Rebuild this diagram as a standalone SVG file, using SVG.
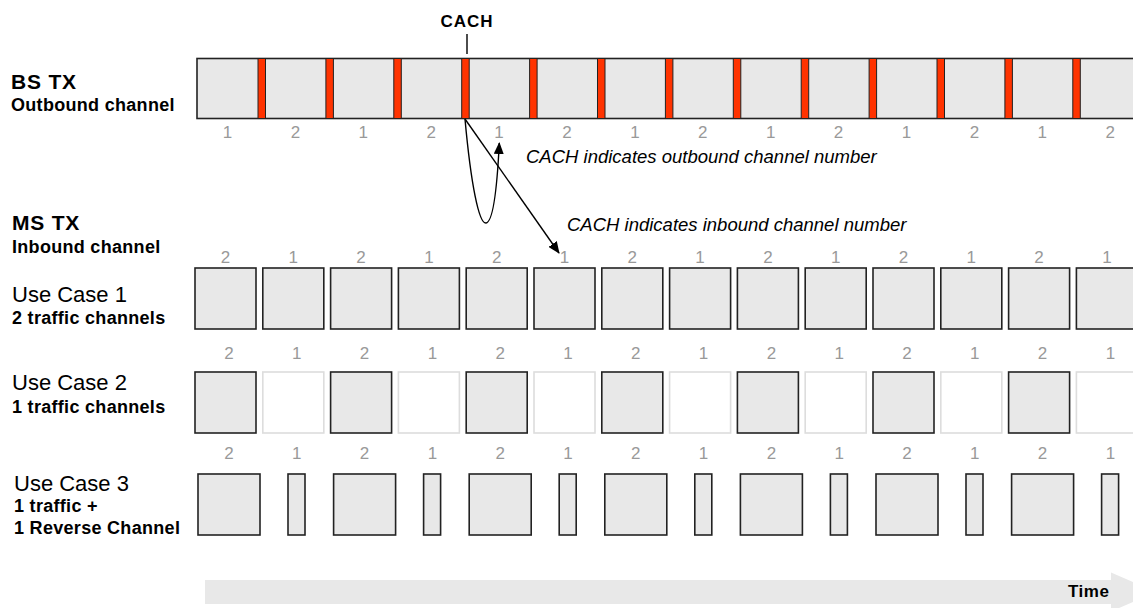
<svg xmlns="http://www.w3.org/2000/svg" width="1133" height="608" viewBox="0 0 1133 608">
<defs>
<style>
.lbl{font-family:"Liberation Sans",Arial,sans-serif;font-weight:bold;fill:#000}
.big{font-size:21px;letter-spacing:0.8px}
.sub{font-size:18px;letter-spacing:0.3px}
.uc{font-family:"Liberation Sans",Arial,sans-serif;font-size:22px;fill:#000}
.num{font-family:"Liberation Sans",Arial,sans-serif;font-size:17px;fill:#999;text-anchor:middle}
.it{font-family:"Liberation Sans",Arial,sans-serif;font-style:italic;font-size:18.5px;fill:#000}
.box{fill:#e8e8e8;stroke:#222;stroke-width:1.6}
.empty{fill:#fff;stroke:#ddd;stroke-width:1.6}
.red{fill:#ff3300;stroke:#222;stroke-width:1}
.conn{fill:none;stroke:#000;stroke-width:1.4}
</style>
<marker id="ah" markerWidth="12" markerHeight="10" refX="11" refY="5" orient="auto" markerUnits="userSpaceOnUse">
<path d="M0,0 L12,5 L0,10 Z" fill="#000"/>
</marker>
</defs>
<rect width="1133" height="608" fill="#fff"/>

<g id="labels">
<text class="lbl big" x="11" y="89">BS TX</text>
<text class="lbl sub" x="11" y="111">Outbound channel</text>
<text class="lbl big" x="12" y="230">MS TX</text>
<text class="lbl sub" x="12" y="253">Inbound channel</text>
<text class="uc" x="12" y="302">Use Case 1</text>
<text class="lbl sub" x="12" y="324">2 traffic channels</text>
<text class="uc" x="12" y="390">Use Case 2</text>
<text class="lbl sub" x="12" y="413">1 traffic channels</text>
<text class="uc" x="14" y="491">Use Case 3</text>
<text class="lbl sub" x="14" y="512">1 traffic +</text>
<text class="lbl sub" x="14" y="534">1 Reverse Channel</text>
</g>

<g id="cach-label">
<text class="lbl" x="467" y="27" font-size="17" letter-spacing="1" text-anchor="middle">CACH</text>
<line x1="467" y1="34" x2="467" y2="54" stroke="#000" stroke-width="1.4"/>
</g>

<g id="bs-tx">
<rect class="box" x="197" y="58.5" width="960" height="60"/>
<rect class="red" x="258" y="58.5" width="7.5" height="60"/>
<rect class="red" x="325.9" y="58.5" width="7.5" height="60"/>
<rect class="red" x="393.8" y="58.5" width="7.5" height="60"/>
<rect class="red" x="461.7" y="58.5" width="7.5" height="60"/>
<rect class="red" x="529.6" y="58.5" width="7.5" height="60"/>
<rect class="red" x="597.5" y="58.5" width="7.5" height="60"/>
<rect class="red" x="665.4" y="58.5" width="7.5" height="60"/>
<rect class="red" x="733.3" y="58.5" width="7.5" height="60"/>
<rect class="red" x="801.2" y="58.5" width="7.5" height="60"/>
<rect class="red" x="869.1" y="58.5" width="7.5" height="60"/>
<rect class="red" x="937" y="58.5" width="7.5" height="60"/>
<rect class="red" x="1004.9" y="58.5" width="7.5" height="60"/>
<rect class="red" x="1072.8" y="58.5" width="7.5" height="60"/>
<text class="num" x="227.5" y="138">1</text>
<text class="num" x="295.4" y="138">2</text>
<text class="num" x="363.3" y="138">1</text>
<text class="num" x="431.2" y="138">2</text>
<text class="num" x="499.1" y="138">1</text>
<text class="num" x="567" y="138">2</text>
<text class="num" x="634.9" y="138">1</text>
<text class="num" x="702.8" y="138">2</text>
<text class="num" x="770.7" y="138">1</text>
<text class="num" x="838.6" y="138">2</text>
<text class="num" x="906.5" y="138">1</text>
<text class="num" x="974.4" y="138">2</text>
<text class="num" x="1042.3" y="138">1</text>
<text class="num" x="1110.2" y="138">2</text>
</g>

<g id="use-case-1">
<rect class="box" x="195" y="268" width="61" height="61"/>
<rect class="box" x="262.8" y="268" width="61" height="61"/>
<rect class="box" x="330.6" y="268" width="61" height="61"/>
<rect class="box" x="398.4" y="268" width="61" height="61"/>
<rect class="box" x="466.2" y="268" width="61" height="61"/>
<rect class="box" x="534" y="268" width="61" height="61"/>
<rect class="box" x="601.8" y="268" width="61" height="61"/>
<rect class="box" x="669.6" y="268" width="61" height="61"/>
<rect class="box" x="737.4" y="268" width="61" height="61"/>
<rect class="box" x="805.2" y="268" width="61" height="61"/>
<rect class="box" x="873" y="268" width="61" height="61"/>
<rect class="box" x="940.8" y="268" width="61" height="61"/>
<rect class="box" x="1008.6" y="268" width="61" height="61"/>
<rect class="box" x="1076.4" y="268" width="61" height="61"/>
<text class="num" x="225.5" y="263">2</text>
<text class="num" x="293.3" y="263">1</text>
<text class="num" x="361.1" y="263">2</text>
<text class="num" x="428.9" y="263">1</text>
<text class="num" x="496.7" y="263">2</text>
<text class="num" x="564.5" y="263">1</text>
<text class="num" x="632.3" y="263">2</text>
<text class="num" x="700.1" y="263">1</text>
<text class="num" x="767.9" y="263">2</text>
<text class="num" x="835.7" y="263">1</text>
<text class="num" x="903.5" y="263">2</text>
<text class="num" x="971.3" y="263">1</text>
<text class="num" x="1039.1" y="263">2</text>
<text class="num" x="1106.9" y="263">1</text>
</g>

<g id="use-case-2">
<rect class="box" x="195" y="372" width="61" height="61"/>
<rect class="empty" x="262.8" y="372" width="61" height="61"/>
<rect class="box" x="330.6" y="372" width="61" height="61"/>
<rect class="empty" x="398.4" y="372" width="61" height="61"/>
<rect class="box" x="466.2" y="372" width="61" height="61"/>
<rect class="empty" x="534" y="372" width="61" height="61"/>
<rect class="box" x="601.8" y="372" width="61" height="61"/>
<rect class="empty" x="669.6" y="372" width="61" height="61"/>
<rect class="box" x="737.4" y="372" width="61" height="61"/>
<rect class="empty" x="805.2" y="372" width="61" height="61"/>
<rect class="box" x="873" y="372" width="61" height="61"/>
<rect class="empty" x="940.8" y="372" width="61" height="61"/>
<rect class="box" x="1008.6" y="372" width="61" height="61"/>
<rect class="empty" x="1076.4" y="372" width="61" height="61"/>
<text class="num" x="229" y="359">2</text>
<text class="num" x="296.8" y="359">1</text>
<text class="num" x="364.6" y="359">2</text>
<text class="num" x="432.4" y="359">1</text>
<text class="num" x="500.2" y="359">2</text>
<text class="num" x="568" y="359">1</text>
<text class="num" x="635.8" y="359">2</text>
<text class="num" x="703.6" y="359">1</text>
<text class="num" x="771.4" y="359">2</text>
<text class="num" x="839.2" y="359">1</text>
<text class="num" x="907" y="359">2</text>
<text class="num" x="974.8" y="359">1</text>
<text class="num" x="1042.6" y="359">2</text>
<text class="num" x="1110.4" y="359">1</text>
</g>

<g id="use-case-3">
<rect class="box" x="198" y="474" width="62" height="61"/>
<rect class="box" x="288" y="474" width="17" height="61"/>
<rect class="box" x="333.6" y="474" width="62" height="61"/>
<rect class="box" x="423.6" y="474" width="17" height="61"/>
<rect class="box" x="469.2" y="474" width="62" height="61"/>
<rect class="box" x="559.2" y="474" width="17" height="61"/>
<rect class="box" x="604.8" y="474" width="62" height="61"/>
<rect class="box" x="694.8" y="474" width="17" height="61"/>
<rect class="box" x="740.4" y="474" width="62" height="61"/>
<rect class="box" x="830.4" y="474" width="17" height="61"/>
<rect class="box" x="876" y="474" width="62" height="61"/>
<rect class="box" x="966" y="474" width="17" height="61"/>
<rect class="box" x="1011.6" y="474" width="62" height="61"/>
<rect class="box" x="1101.6" y="474" width="17" height="61"/>
<text class="num" x="229" y="459">2</text>
<text class="num" x="296.8" y="459">1</text>
<text class="num" x="364.6" y="459">2</text>
<text class="num" x="432.4" y="459">1</text>
<text class="num" x="500.2" y="459">2</text>
<text class="num" x="568" y="459">1</text>
<text class="num" x="635.8" y="459">2</text>
<text class="num" x="703.6" y="459">1</text>
<text class="num" x="771.4" y="459">2</text>
<text class="num" x="839.2" y="459">1</text>
<text class="num" x="907" y="459">2</text>
<text class="num" x="974.8" y="459">1</text>
<text class="num" x="1042.6" y="459">2</text>
<text class="num" x="1110.4" y="459">1</text>
</g>

<g id="connectors">
<path class="conn" d="M465,119 C471,185 479,224 486,223 C493,222 497,190 499.3,143" marker-end="url(#ah)"/>
<path class="conn" d="M465,119 L559,253" marker-end="url(#ah)"/>
</g>

<g id="annotations">
<text class="it" x="526" y="163">CACH indicates outbound channel number</text>
<text class="it" x="567" y="231">CACH indicates inbound channel number</text>
</g>

<g id="time-arrow">
<path d="M205,580 L1111,580 L1111,572.5 L1156,592 L1111,611.5 L1111,604 L205,604 Z" fill="#e8e8e8"/>
<text class="lbl" x="1068" y="597" font-size="17" letter-spacing="0.5">Time</text>
</g>
</svg>
